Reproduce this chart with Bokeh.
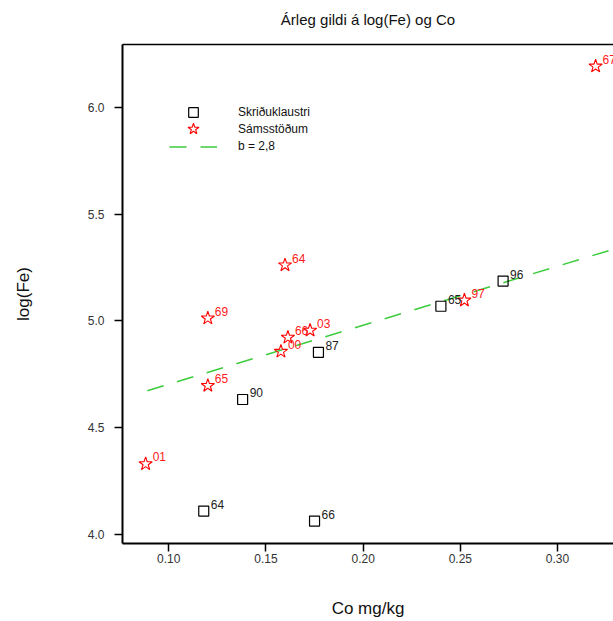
from bokeh.plotting import figure
from bokeh.models import (ColumnDataSource, FixedTicker, PrintfTickFormatter,
                          LinearAxis, Range1d, Legend, LegendItem)
from bokeh.core.properties import value
from bokeh.embed import file_html
from bokeh.resources import INLINE

# ---- data ----
title_text = "Árleg gildi á log(Fe) og Co"
x_label = "Co mg/kg"
y_label = "log(Fe)"

sk_name = "Skriðuklaustri"
sk_co = [0.118, 0.175, 0.138, 0.177, 0.240, 0.272]
sk_fe = [4.108, 4.061, 4.631, 4.852, 5.068, 5.186]
sk_year = ["64", "66", "90", "87", "65", "96"]

sa_name = "Sámsstöðum"
sa_co = [0.3196, 0.1598, 0.1201, 0.1613, 0.1727, 0.1577, 0.2521, 0.1201, 0.0881]
sa_fe = [6.193, 5.261, 5.012, 4.922, 4.955, 4.856, 5.096, 4.696, 4.329]
sa_year = ["67", "64", "69", "66", "03", "00", "97", "65", "01"]

fit_name = "b = 2,8"
fit_co = [0.089, 0.3290]
fit_fe = [4.672, 5.336]

x_ticks = [0.10, 0.15, 0.20, 0.25, 0.30]
y_ticks = [4.0, 4.5, 5.0, 5.5, 6.0]

FONT = "Liberation Sans"

p = figure(width=613, height=621, output_backend="svg", toolbar_location=None,
           x_range=Range1d(0.0762, 0.3288), y_range=Range1d(3.956, 6.295),
           x_axis_location=None, y_axis_location=None,
           min_border_left=122, min_border_right=0, min_border_top=44,
           min_border_bottom=78)
p.outline_line_color = None
p.grid.visible = False
p.background_fill_color = "white"
p.border_fill_color = "white"

def style_axis(ax, width=2):
    ax.axis_line_color = "black"
    ax.axis_line_width = width
    ax.major_tick_line_color = "black"
    ax.major_tick_line_width = 1.5
    ax.major_tick_in = 0
    ax.major_tick_out = 8
    ax.minor_tick_line_color = None
    ax.major_label_text_font = FONT
    ax.major_label_text_font_size = "12px"
    ax.major_label_text_color = "#333333"
    ax.axis_label_text_font = FONT
    ax.axis_label_text_font_style = "normal"
    ax.axis_label_text_color = "#111111"

xa = LinearAxis(ticker=FixedTicker(ticks=x_ticks),
                formatter=PrintfTickFormatter(format="%.2f"),
                axis_label=x_label)
style_axis(xa)
xa.major_label_standoff = 2
xa.axis_label_text_font_size = "17px"
xa.axis_label_standoff = 33
p.add_layout(xa, "below")

ya = LinearAxis(ticker=FixedTicker(ticks=y_ticks),
                formatter=PrintfTickFormatter(format="%.1f"),
                axis_label=y_label)
style_axis(ya)
ya.major_label_standoff = 10
ya.axis_label_text_font_size = "17px"
ya.axis_label_standoff = 52
p.add_layout(ya, "left")

ta = LinearAxis(ticker=FixedTicker(ticks=[]), axis_label=title_text)
style_axis(ta, width=1.5)
ta.major_tick_line_color = None
ta.major_label_text_font_size = "0px"
ta.axis_label_text_font_size = "15px"
ta.axis_label_text_color = "#111111"
ta.axis_label_standoff = 17
p.add_layout(ta, "above")

sk_src = ColumnDataSource(dict(x=sk_co, y=sk_fe, t=sk_year))
sa_src = ColumnDataSource(dict(x=sa_co, y=sa_fe, t=sa_year))

fit_r = p.line(fit_co, fit_fe, line_color="#3ccc3c", line_width=1.5,
               line_dash="17 14")
sk_r = p.scatter("x", "y", source=sk_src, marker="square", size=10,
                 fill_color=None, line_color="black", line_width=1.2)
sa_r = p.scatter("x", "y", source=sa_src, marker="star", size=14,
                 fill_color=None, line_color="#ff0000", line_width=1.1)

p.text("x", "y", text="t", source=sk_src, x_offset=7, y_offset=-7,
       text_font=value(FONT), text_font_size="12px", text_color="#222222",
       text_baseline="middle", text_align="left")
p.text("x", "y", text="t", source=sa_src, x_offset=7, y_offset=-7,
       text_font=value(FONT), text_font_size="12px", text_color="#ff1a1a",
       text_baseline="middle", text_align="left")

# legend: one row per Legend so each key glyph can have its own size
rows = [(sk_name, sk_r, 24, 419.5),
        (sa_name, sa_r, 29, 400),
        (fit_name, fit_r, 17, 388.5)]
for label, rend, gh, vy in rows:
    lg = Legend(items=[LegendItem(label=label, renderers=[rend])],
                location=(47, vy))
    lg.border_line_color = None
    lg.background_fill_color = None
    lg.background_fill_alpha = 0
    lg.padding = 0
    lg.margin = 0
    lg.spacing = 0
    lg.glyph_width = 48
    lg.glyph_height = gh
    lg.label_height = gh
    lg.label_standoff = 21
    lg.label_text_font = FONT
    lg.label_text_font_size = "12px"
    lg.label_text_color = "#111111"
    p.add_layout(lg, "center")

open("out.html", "w").write(file_html(p, INLINE))
